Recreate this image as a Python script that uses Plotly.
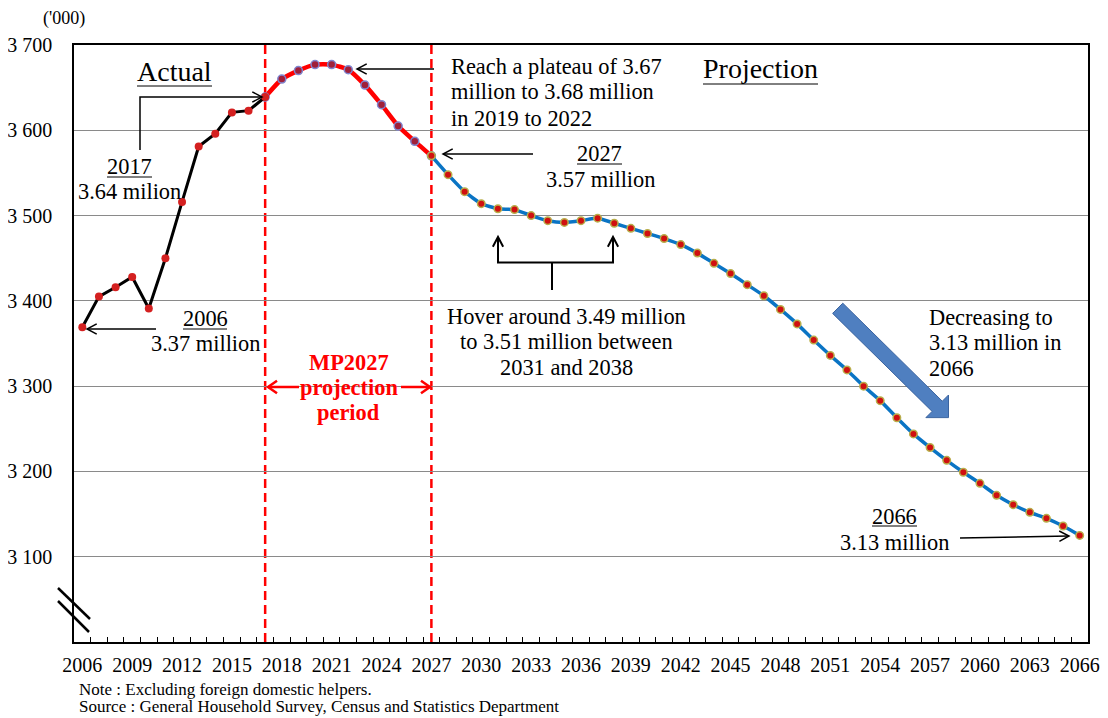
import math
import plotly.graph_objects as go

# ---------------- data ----------------
years_actual = list(range(2006, 2018))
actual = [3369, 3405, 3416, 3428, 3391, 3450, 3516, 3581, 3596, 3621, 3623, 3639]

years_mp = list(range(2017, 2028))
mp_projection = [3639, 3660, 3670, 3677, 3677, 3671, 3653, 3630, 3605, 3587, 3570]

years_proj = list(range(2027, 2067))
projection = [3570, 3548, 3528, 3514, 3508, 3507, 3500, 3494, 3492, 3494,
              3497, 3491, 3485, 3479, 3473, 3466, 3456, 3444, 3432, 3419,
              3406, 3390, 3373, 3354, 3336, 3319, 3300, 3283, 3263, 3244,
              3228, 3213, 3199, 3186, 3172, 3161, 3152, 3145, 3136, 3125]

x_tick_years = list(range(2006, 2067, 3))
y_tick_values = [3100, 3200, 3300, 3400, 3500, 3600, 3700]
y_tick_labels = ["3 100", "3 200", "3 300", "3 400", "3 500", "3 600", "3 700"]
minor_tick_years = [y + 0.5 for y in range(2006, 2066)]

# ---------------- geometry helpers ----------------
W, H = 1108, 718          # window size
OFF = 8                   # default body margin of the html page
L, R, T, B = 74, 1088, 45, 642   # plot area in window pixels
X0, X1 = 2005.5, 2066.5
Y0, Y1 = 3000, 3700
FONT = "Liberation Serif"


def fx(px):
    return (px - L) / (R - L)


def fy(py):
    return (B - py) / (B - T)


shapes = []
annotations = []


def seg(p1, p2, color="black", width=1.5):
    shapes.append(dict(type="line", xref="paper", yref="paper",
                       x0=fx(p1[0]), y0=fy(p1[1]), x1=fx(p2[0]), y1=fy(p2[1]),
                       line=dict(color=color, width=width), layer="above"))


def poly(points, color="black", width=1.5, fill=None, closed=False):
    d = "M " + " L ".join(f"{fx(a):.5f},{fy(b):.5f}" for a, b in points)
    if closed:
        d += " Z"
    s = dict(type="path", xref="paper", yref="paper", path=d,
             line=dict(color=color, width=width), layer="above")
    if fill:
        s["fillcolor"] = fill
    shapes.append(s)


def arrow(points, color="black", width=1.5, head=11, ang=28):
    poly(points, color, width)
    (ax, ay), (tx, ty) = points[-2], points[-1]
    ux, uy = ax - tx, ay - ty
    n = math.hypot(ux, uy)
    ux, uy = ux / n, uy / n
    pts = []
    for s in (1, -1):
        a = math.radians(ang * s)
        rx = ux * math.cos(a) - uy * math.sin(a)
        ry = ux * math.sin(a) + uy * math.cos(a)
        pts.append((tx + head * rx, ty + head * ry))
    poly([pts[0], (tx, ty), pts[1]], color, width)


def text(s, px, py, size=22.4, anchor="center", color="black", bold=False):
    if bold:
        s = f"<b>{s}</b>"
    annotations.append(dict(text=s, x=fx(px), y=fy(py), xref="paper", yref="paper",
                            xanchor=anchor, yanchor="middle", showarrow=False,
                            font=dict(family=FONT, size=size, color=color)))


# ---------------- figure ----------------
fig = go.Figure()

fig.add_trace(go.Scatter(
    x=years_mp, y=mp_projection, mode="lines+markers",
    line=dict(color="#ff0000", width=4.5, shape="spline", smoothing=0.5),
    marker=dict(size=8, color="#a0203a", line=dict(color="#7f86d0", width=1.5)),
    showlegend=False, hoverinfo="x+y"))

fig.add_trace(go.Scatter(
    x=years_actual, y=actual, mode="lines+markers",
    line=dict(color="black", width=3),
    marker=dict(size=8, color="#d42020"),
    showlegend=False, hoverinfo="x+y"))

fig.add_trace(go.Scatter(
    x=years_proj, y=projection, mode="lines+markers",
    line=dict(color="#0a74c4", width=3.5, shape="spline", smoothing=0.5),
    marker=dict(size=7.5, color="#d01010", line=dict(color="#b8ae4a", width=1.5)),
    showlegend=False, hoverinfo="x+y"))

# MP2027 projection period boundaries
for yr in (years_mp[0], years_mp[-1]):
    shapes.append(dict(type="line", xref="x", yref="paper", x0=yr, x1=yr, y0=0, y1=1,
                       line=dict(color="#ff0000", width=2.5, dash="9px,5px"),
                       layer="between"))

# axis break marks
seg((58, 588), (90, 619), width=2.5)
seg((58, 601), (89, 632), width=2.5)

# labels and call-outs
text("('000)", 64, 19, size=18)

text("Actual", 174.5, 71, size=28)
seg((137, 86), (212, 86), width=1)
text("Projection", 760, 69, size=28)
seg((703, 84), (818, 84), width=1)

text("2017", 129.5, 166)
seg((107, 177), (152, 177), width=1)
text("3.64 milion", 129.5, 192)
arrow([(140, 150), (140, 97), (262, 97)])

text("2006", 205, 318)
seg((183, 329), (227, 329), width=1)
text("3.37 million", 205, 343)
arrow([(156, 329), (87, 329)])

text("MP2027", 348.5, 362, color="#ff0000", bold=True)
text("projection", 348.5, 387, color="#ff0000", bold=True)
text("period", 348.5, 412, color="#ff0000", bold=True)
arrow([(299, 387), (268, 387)], color="#ff0000", width=2.5, head=11, ang=35)
arrow([(401, 387), (430, 387)], color="#ff0000", width=2.5, head=11, ang=35)

text("Reach a plateau of 3.67", 449, 66, anchor="left")
text("million to 3.68 million", 449, 92, anchor="left")
text("in 2019 to 2022", 449, 118, anchor="left")
arrow([(434, 69), (357, 69)])

text("2027", 599, 153)
seg((577, 164), (622, 164), width=1)
text("3.57 million", 600, 179)
arrow([(533, 154), (443, 154)])

text("Hover around 3.49 million", 566, 316)
text("to 3.51 million between", 566, 341)
text("2031 and 2038", 566, 367)
arrow([(552, 262.5), (498, 262.5), (498, 237)], width=2)
arrow([(552, 262.5), (613, 262.5), (613, 237)], width=2)
seg((552, 262.5), (552, 290), width=2)

text("Decreasing to", 927, 317, anchor="left")
text("3.13 million in", 927, 342, anchor="left")
text("2066", 927, 368, anchor="left")

# block arrow
c0 = (837.7, 308.3)
hb = (937.2, 406.3)
nx, ny = 0.7071, -0.7071
dxu, dyu = 0.7071, 0.7071
sw, hw, hl = 7.2, 16, 16
tip = (hb[0] + hl * dxu, hb[1] + hl * dyu)
poly([(c0[0] + sw * nx, c0[1] + sw * ny), (hb[0] + sw * nx, hb[1] + sw * ny),
      (hb[0] + hw * nx, hb[1] + hw * ny), tip,
      (hb[0] - hw * nx, hb[1] - hw * ny), (hb[0] - sw * nx, hb[1] - sw * ny),
      (c0[0] - sw * nx, c0[1] - sw * ny)],
     color="#3b64a0", width=1, fill="#4f7fc0", closed=True)

text("2066", 894, 516)
seg((872, 526), (917, 526), width=1)
text("3.13 million", 894, 542)
arrow([(960, 538), (1069, 536)])

text("Note : Excluding foreign domestic helpers.", 77, 689, size=17, anchor="left")
text("Source : General Household Survey, Census and Statistics Department", 77, 706,
     size=17, anchor="left")

# the page places the figure OFF pixels from the window's top-left corner
fw, fh = W - OFF, H - OFF
fig.update_layout(
    width=fw, height=fh, autosize=False,
    margin=dict(l=L - OFF, r=W - R, t=T - OFF, b=H - B, pad=0, autoexpand=False),
    paper_bgcolor="white", plot_bgcolor="white",
    font=dict(family=FONT, size=20, color="black"),
    shapes=shapes, annotations=annotations,
    showlegend=False,
)

fig.update_xaxes(
    range=[X0, X1], tickmode="array", tickvals=x_tick_years,
    ticktext=[str(y) for y in x_tick_years], ticks="",
    tickfont=dict(family=FONT, size=20, color="black"),
    ticklabelstandoff=4, automargin=False,
    minor=dict(tickmode="array", tickvals=minor_tick_years, ticks="inside",
               ticklen=5, tickwidth=1, tickcolor="black", showgrid=False),
    showgrid=False, zeroline=False,
    showline=True, linecolor="black", linewidth=1.5, mirror=True,
)
fig.update_yaxes(
    range=[Y0, Y1], tickmode="array", tickvals=y_tick_values, ticktext=y_tick_labels,
    ticks="", tickfont=dict(family=FONT, size=20, color="black"),
    ticklabelstandoff=16, automargin=False,
    showgrid=True, gridcolor="#8a8a8a", gridwidth=1, zeroline=False,
    showline=True, linecolor="black", linewidth=1.5, mirror=True,
)

fig.write_html("out.html")
